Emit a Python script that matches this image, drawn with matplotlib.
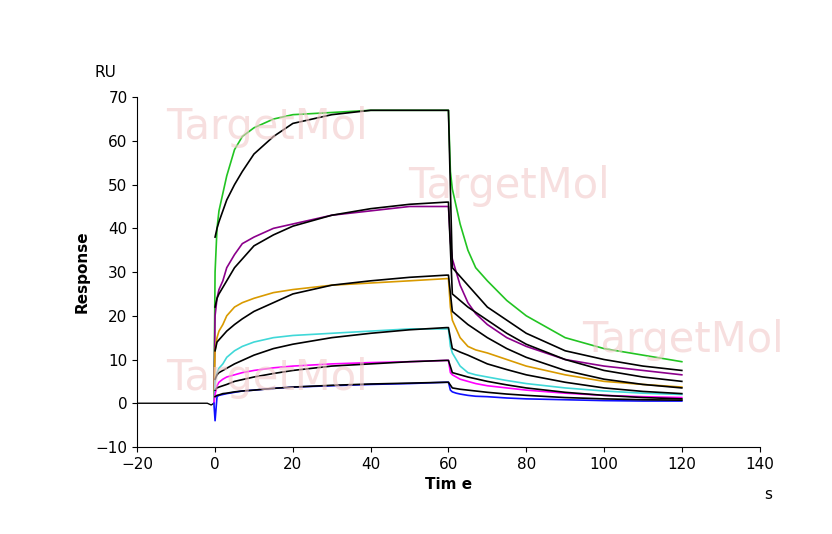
import matplotlib
matplotlib.use("Agg")
import matplotlib.pyplot as plt

base_t = [-20, -10, -2, -1, -0.3]
base_y = [0, 0, 0, -0.4, 0]

assoc_t = [0, 0.5, 1, 2, 3, 5, 7, 10, 15, 20, 30, 40, 50, 59.5]
diss_t = [60, 60.5, 61, 62, 63, 65, 67, 70, 75, 80, 90, 100, 110, 120]
fit_diss_t = [60, 61, 63, 65, 70, 75, 80, 90, 100, 110, 120]

colors = ["#22c422", "#8b008b", "#d99a00", "#40d8d8", "#ff00ff", "#1010ff"]
data_assoc = [
    [30, 40, 44, 48, 52, 58, 61, 63, 65, 66, 66.5, 67, 67, 67],
    [20, 24, 26, 28, 31, 34, 36.5, 38, 40, 41, 43, 44, 45, 45],
    [12, 15, 16.5, 18, 20, 22, 23, 24, 25.3, 26, 27, 27.5, 28, 28.5],
    [5, 7, 8, 9, 10.5, 12, 13, 14, 15, 15.5, 16, 16.5, 17, 17],
    [2, 4, 4.8, 5.5, 6, 6.5, 7, 7.5, 8.1, 8.5, 9, 9.3, 9.5, 9.8],
    [-4, 1.5, 1.8, 2, 2.2, 2.5, 2.8, 3, 3.4, 3.7, 4, 4.3, 4.5, 4.8],
]
data_diss = [
    [67, 53, 49, 45, 41, 35, 31, 28, 23.5, 20, 15, 12.5, 11, 9.5],
    [45, 37, 33, 30, 27, 23, 20.5, 18, 15, 13, 10, 8.5, 7.5, 6.5],
    [28.5, 22, 19, 17, 15, 13, 12.2, 11.5, 10, 8.5, 6.5, 5, 4.3, 3.7],
    [17, 13, 11.5, 10, 8.5, 7, 6.5, 6, 5.2, 4.5, 3.5, 2.8, 2.3, 2],
    [9.8, 7, 6.5, 6, 5.5, 5, 4.5, 4, 3.5, 3, 2.3, 1.8, 1.5, 1.3],
    [4.8, 3, 2.6, 2.3, 2.1, 1.8, 1.6, 1.5, 1.2, 1, 0.8, 0.6, 0.5, 0.5],
]
fit_assoc = [
    [38, 40, 41.5, 44, 46.5, 50, 53, 57, 61, 64, 66, 67, 67, 67],
    [22, 24, 25, 26.5, 28, 31, 33, 36, 38.5, 40.5, 43, 44.5, 45.5, 46],
    [12, 14, 14.5, 15.5, 16.5, 18, 19.3, 21, 23, 25, 27, 28, 28.8, 29.3],
    [5.5, 6.5, 7, 7.5, 8, 9, 9.8, 11, 12.5, 13.5, 15, 16, 16.8, 17.3],
    [3, 3.5, 3.7, 4, 4.3, 5, 5.4, 6, 6.8, 7.5, 8.5, 9, 9.5, 9.8],
    [1.5, 1.8, 1.9, 2.2, 2.3, 2.6, 2.8, 3, 3.4, 3.7, 4.1, 4.4, 4.6, 4.8],
]
fit_diss = [
    [67, 31, 29, 27, 22, 19, 16, 12, 10, 8.5, 7.5],
    [46, 25, 23.5, 22, 19, 16, 13.5, 10, 7.5, 6, 5],
    [29.3, 21, 19.5, 18, 15, 12.5, 10.5, 7.5, 5.5, 4.3, 3.5],
    [17.3, 12.5, 11.7, 11, 9, 7.7, 6.5, 4.8, 3.5, 2.7, 2.2],
    [9.8, 7, 6.5, 6, 5, 4.2, 3.5, 2.5, 1.8, 1.3, 1.0],
    [4.8, 3.5, 3.2, 3, 2.5, 2.1, 1.8, 1.3, 1.0, 0.8, 0.7],
]

fig = plt.figure(figsize=(8.32, 5.34), dpi=100)
ax = fig.add_axes([0.165, 0.163, 0.748, 0.655])

for txt, x, y in [("TargetMol", 0.2, 0.74), ("TargetMol", 0.49, 0.63), ("TargetMol", 0.2, 0.27), ("TargetMol", 0.7, 0.34)]:
    fig.text(x, y, txt, fontsize=30, color="#f2caca", alpha=0.6, zorder=0)

ax.plot(base_t, base_y, color="black", lw=1)
for i in range(6):
    ax.plot(base_t[-1:] + assoc_t + diss_t, [0] + data_assoc[i] + data_diss[i], color=colors[i], lw=1.2)
for i in range(6):
    ax.plot(assoc_t + fit_diss_t, fit_assoc[i] + fit_diss[i], color="black", lw=1.2)

ax.set_xlim(-20, 140)
ax.set_ylim(-10, 70)
ax.set_xticks(range(-20, 141, 20))
ax.set_yticks(range(-10, 71, 10))
ax.spines["top"].set_visible(False)
ax.spines["right"].set_visible(False)
ax.tick_params(labelsize=11)
ax.set_ylabel("Response", fontsize=11, fontweight="bold")
ax.set_xlabel("Tim e", fontsize=11, fontweight="bold")
fig.text(0.113, 0.855, "RU", fontsize=11)
fig.text(0.918, 0.065, "s", fontsize=11)
fig.savefig("out.png", dpi=100)
